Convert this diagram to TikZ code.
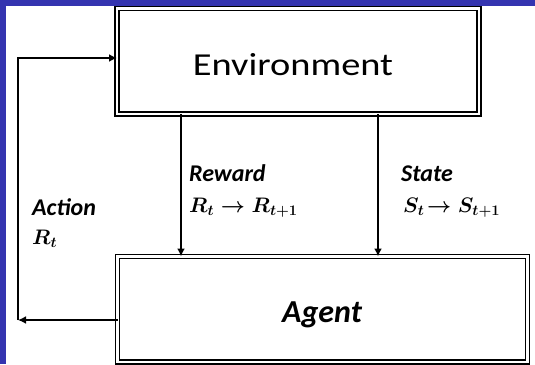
\RequirePackage{fix-cm}
\documentclass[tikz,border=0pt]{standalone}
\usepackage{amsmath}
\usepackage{fontspec}
\setmainfont{Carlito}
\usetikzlibrary{arrows.meta}
\definecolor{frameblue}{RGB}{52,52,176}
\tikzset{
  dbox/.style={draw=black, double=white, line width=1.6pt, double distance=2.2pt, inner sep=0pt, outer sep=0pt},
  arr/.style={line width=1.6pt, -{Latex[length=8pt,width=8pt]}},
  lbl/.style={anchor=base west, inner sep=0pt, font=\fontsize{24}{28}\selectfont\bfseries\itshape},
  mth/.style={anchor=base west, inner sep=0pt, font=\fontsize{21}{25}\selectfont\boldmath},
}
\begin{document}
\begin{tikzpicture}[x=1pt,y=-1pt]
\fill[frameblue] (0,0) rectangle (535,364);
\fill[white] (6,6) rectangle (535,364);
\useasboundingbox (0,0) rectangle (535,364);

\node[dbox, minimum width=362pt, minimum height=105.5pt] (env) at (298,61.25) {};
\node[anchor=base, inner sep=0pt, font=\fontsize{32}{38}\selectfont] (envt) at (293,75) {\scalebox{1.2}[1]{Environment}};

\node[dbox, minimum width=410pt, minimum height=105.5pt] (agent) at (322.5,309.25) {};
\node[anchor=base, inner sep=0pt, font=\fontsize{32}{38}\selectfont\bfseries\itshape] (agt) at (322,322) {Agent};

\coordinate (rx) at (181,0);
\coordinate (sx) at (378,0);
\coordinate (topy) at (0,58);
\coordinate (boty) at (0,320);
\coordinate (corner) at (18,320);
\coordinate (upper) at (18,58);

\draw[arr] (rx |- env.south) -- (rx |- agent.north);
\draw[arr] (sx |- env.south) -- (sx |- agent.north);
\draw[arr] (agent.west |- boty) -- (corner);
\draw[arr] (corner) -- (upper) -- (env.west |- topy);

\node[lbl] (rew) at (189,181) {Reward};
\node[mth] (rewm) at (189,212) {$R_t \rightarrow R_{t+1}$};
\node[lbl] (st) at (401,181) {State};
\node[mth] (stm) at (403,212) {$S_t\!\rightarrow S_{t+1}$};
\node[lbl] (act) at (32,215) {Action};
\node[mth] (actm) at (32,244) {$R_t$};
\end{tikzpicture}
\end{document}
